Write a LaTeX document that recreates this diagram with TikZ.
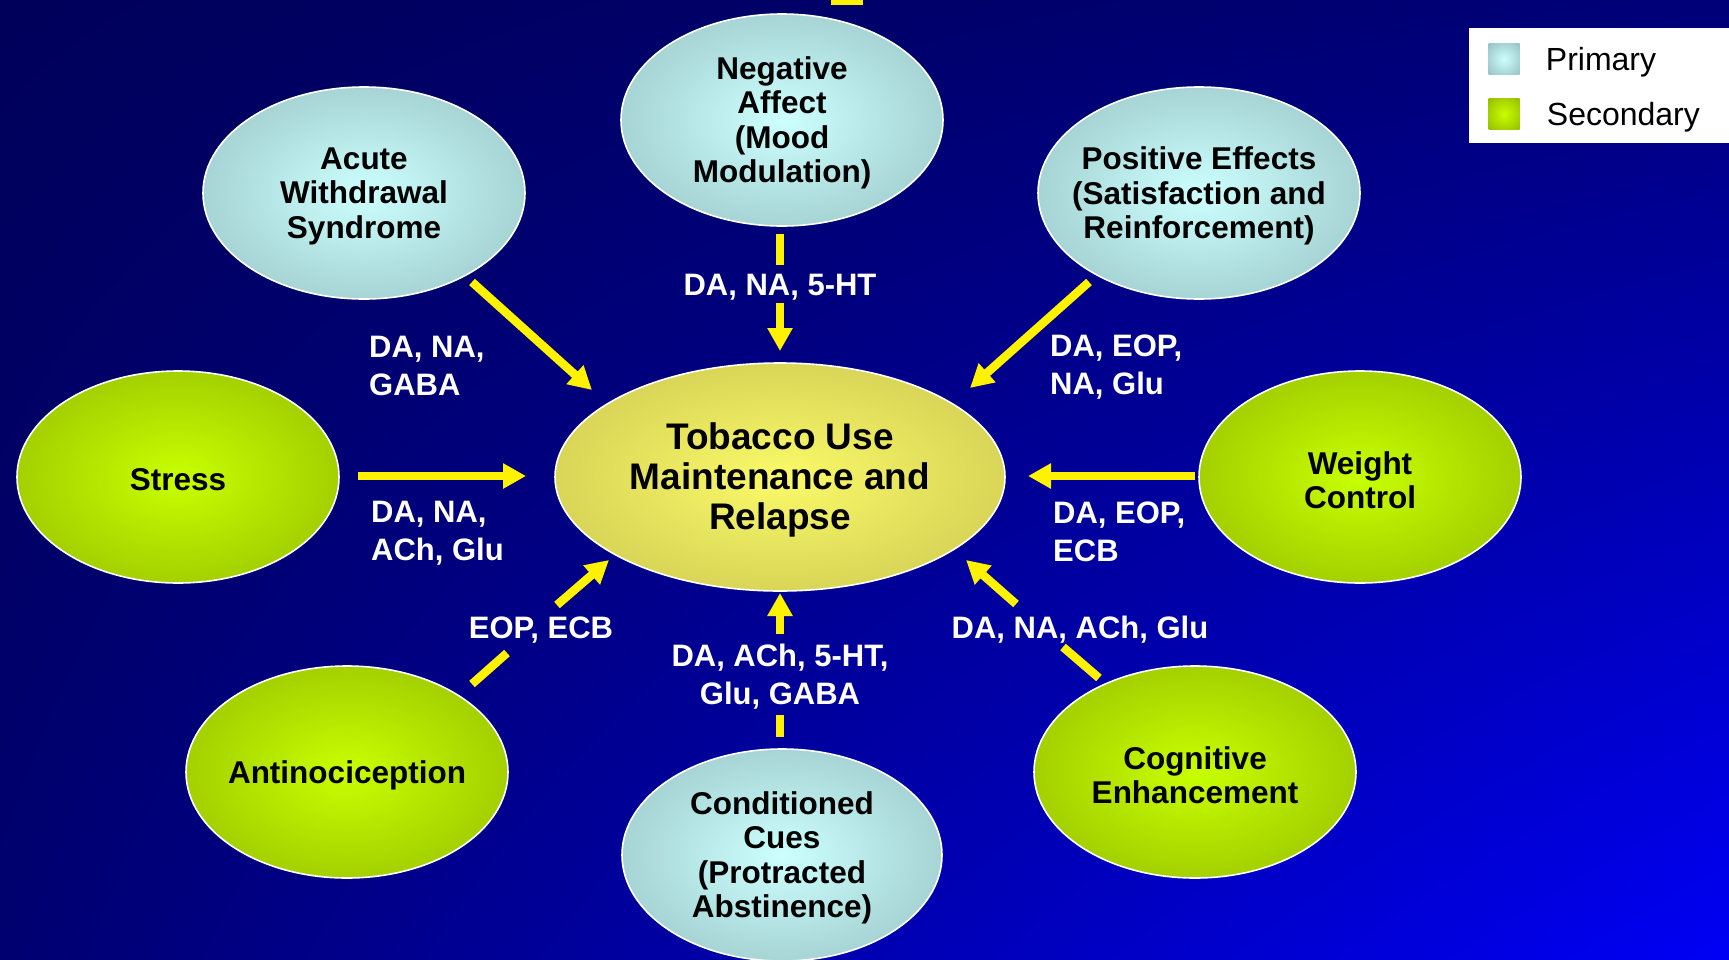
\documentclass[tikz,border=0pt]{standalone}
\usepackage{fontspec}
\setmainfont{Liberation Sans}
\usetikzlibrary{shapes.geometric,arrows.meta,positioning,shadings}
\definecolor{bgnavy}{RGB}{0,0,90}
\definecolor{bgtopright}{RGB}{0,0,120}
\definecolor{bgbottomleft}{RGB}{0,0,112}
\definecolor{bgbright}{RGB}{0,0,245}
\definecolor{priin}{RGB}{205,255,255}
\definecolor{priout}{RGB}{150,193,193}
\definecolor{secin}{RGB}{200,255,0}
\definecolor{secout}{RGB}{148,188,0}
\definecolor{hubin}{RGB}{250,250,105}
\definecolor{hubout}{RGB}{200,194,78}
\pgfdeclareradialshading{priglow}{\pgfpoint{0bp}{0bp}}{color(0bp)=(priin); color(36bp)=(priout); color(50bp)=(priout)}
\pgfdeclareradialshading{secglow}{\pgfpoint{0bp}{0bp}}{color(0bp)=(secin); color(36bp)=(secout); color(50bp)=(secout)}
\pgfdeclareradialshading{hubglow}{\pgfpoint{0bp}{0bp}}{color(0bp)=(hubin); color(38bp)=(hubout); color(50bp)=(hubout)}
\tikzset{
  bubble/.style={ellipse, draw=white, line width=1.6pt, inner sep=0pt, shade,
    minimum width=322pt, minimum height=212pt},
  primary/.style={bubble, shading=priglow},
  secondary/.style={bubble, shading=secglow},
  inside/.style={font=\fontsize{31.5}{34.5}\selectfont\bfseries, align=center, text=black, yshift=-3pt},
  tag/.style={font=\fontsize{31}{38}\selectfont\bfseries, text=white, inner sep=0pt},
  feed/.style={draw=yellow, line width=8.5pt, -{Triangle[width=24pt,length=23pt]}},
  link/.style={draw=yellow, line width=8.5pt},
  keybox/.style={rectangle, shade, inner sep=0pt, minimum size=31pt},
  keytext/.style={font=\fontsize{32}{36}\selectfont, text=black, inner sep=0pt,
    text height=23pt, text depth=0pt}
}
\begin{document}
\begin{tikzpicture}[x=1pt,y=-1pt]
    \useasboundingbox (0,0) rectangle (1729,959);
    \clip (0,0) rectangle (1729,959);
    \shade[upper left=bgnavy, upper right=bgtopright, lower left=bgbottomleft, lower right=bgbright]
        (0,0) rectangle (1729,959);
    \fill[yellow] (831,0) rectangle (863,5);

    \node[primary, label={[inside]center:{Negative\\Affect\\(Mood\\Modulation)}}] (neg) at (782,120) {};
    \node[primary, label={[inside]center:{Acute\\Withdrawal\\Syndrome}}] (acute) at (364,193) {};
    \node[primary, label={[inside]center:{Positive Effects\\(Satisfaction and\\Reinforcement)}}] (pos) at (1199,193) {};
    \node[secondary, label={[inside]center:{Stress}}] (stress) at (178,477) {};
    \node[secondary, label={[inside]center:{Weight\\Control}}] (weight) at (1360,477) {};
    \node[secondary, label={[inside]center:{Antinociception}}] (anti) at (347,772) {};
    \node[secondary, label={[inside]center:{Cognitive\\Enhancement}}] (cog) at (1195,772) {};
    \node[primary, minimum width=320pt, label={[inside]center:{Conditioned\\Cues\\(Protracted\\Abstinence)}}] (cues) at (782,855) {};
    \node[bubble, shading=hubglow, minimum width=450pt, minimum height=228pt,
        label={[inside, font=\fontsize{37}{40}\selectfont\bfseries]center:{Tobacco Use\\Maintenance and\\Relapse}}] (hub) at (780,477) {};

    \node[tag] (lblneg) at (780,287) {DA, NA, 5-HT};
    \node[tag, align=left, anchor=west] (lblacute) at (369,366) {DA, NA,\\GABA};
    \node[tag, align=left, anchor=west] (lblpos) at (1050,367) {DA, EOP,\\NA, Glu};
    \node[tag, align=left, anchor=west] (lblstress) at (371,533) {DA, NA,\\ACh, Glu};
    \node[tag, align=left, anchor=west] (lblweight) at (1053,532) {DA, EOP,\\ECB};
    \node[tag] (lblanti) at (541,630) {EOP, ECB};
    \node[tag, align=center] (lblcues) at (780,677) {DA, ACh, 5-HT,\\Glu, GABA};
    \node[tag] (lblcog) at (1080,630) {DA, NA, ACh, Glu};

    \draw[link] ([shift={(-2,114)}]neg.center) -- ([shift={(0,-22)}]lblneg.center);
    \draw[feed] ([shift={(0,16)}]lblneg.center) -- ([shift={(0,-126)}]hub.center);
    \draw[feed] ([shift={(108,89)}]acute.center) -- ([shift={(-188,-87)}]hub.center);
    \draw[feed] ([shift={(-110,89)}]pos.center) -- ([shift={(190,-89)}]hub.center);
    \draw[feed] ([shift={(180,-1)}]stress.center) -- ([shift={(-254,-1)}]hub.center);
    \draw[feed] ([shift={(-165,-1)}]weight.center) -- ([shift={(248,-1)}]hub.center);
    \draw[link] ([shift={(125,-88)}]anti.center) -- ([shift={(-34,23)}]lblanti.center);
    \draw[feed] ([shift={(16,-25)}]lblanti.center) -- ([shift={(-171,83)}]hub.center);
    \draw[link] ([shift={(-2,-118)}]cues.center) -- ([shift={(0,38)}]lblcues.center);
    \draw[feed] ([shift={(0,-43)}]lblcues.center) -- ([shift={(0,116)}]hub.center);
    \draw[link] ([shift={(-96,-94)}]cog.center) -- ([shift={(-17,17)}]lblcog.center);
    \draw[feed] ([shift={(-64,-26)}]lblcog.center) -- ([shift={(186,83)}]hub.center);

    \fill[white] (1469,28) rectangle (1729,143);
    \node[keybox, shading=priglow] (keypri) at (1504,59) {};
    \node[keybox, shading=secglow] (keysec) at (1504,114) {};
    \node[keytext, right=26pt of keypri] (keyprilbl) {Primary};
    \node[keytext, right=27pt of keysec] (keyseclbl) {Secondary};
\end{tikzpicture}
\end{document}
